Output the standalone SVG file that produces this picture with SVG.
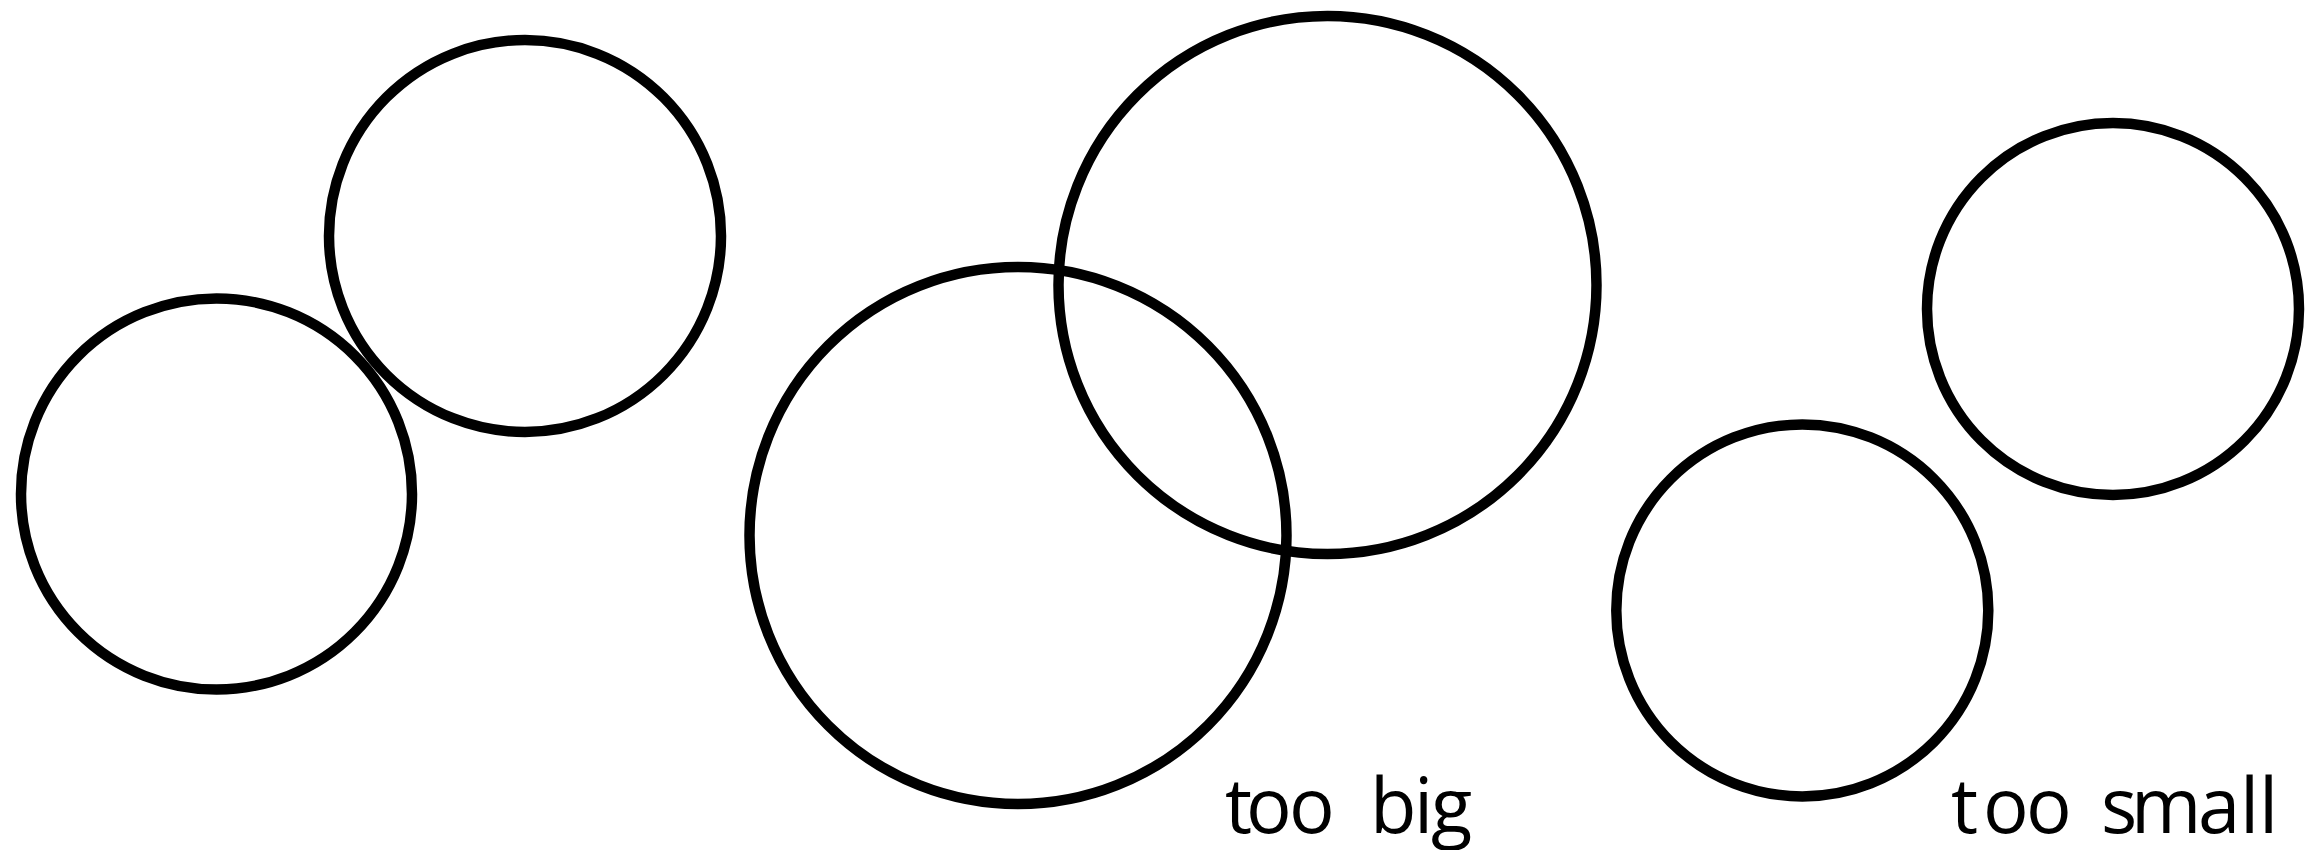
<svg xmlns="http://www.w3.org/2000/svg" width="2317" height="850" viewBox="0 0 2317 850">
<style>
.c{fill:none;stroke:#000;stroke-width:10.5}
.t{font-family:"Open Sans","Noto Sans","Liberation Sans",sans-serif;font-size:76px;fill:#000}
</style>
<rect width="2317" height="850" fill="#fff"/>
<g id="circle-left-bottom"><circle class="c" cx="216.5" cy="494" r="195.5"/></g>
<g id="circle-left-top"><circle class="c" cx="525" cy="236" r="196"/></g>
<g id="circle-big-lower"><circle class="c" cx="1018" cy="535.5" r="268.5"/></g>
<g id="circle-big-upper"><circle class="c" cx="1327.5" cy="285" r="269"/></g>
<g id="circle-right-lower"><circle class="c" cx="1802.3" cy="610.4" r="186"/></g>
<g id="circle-right-upper"><circle class="c" cx="2113" cy="309" r="186"/></g>
<g id="connectors"></g>
<g id="label-too-big"><text class="t" x="1225 1246 1289 1332 1370 1414 1431" y="833">too big</text></g>
<g id="label-too-small"><text class="t" x="1951 1983 2026 2069 2101 2131 2198 2240 2259" y="833">too small</text></g>
</svg>
